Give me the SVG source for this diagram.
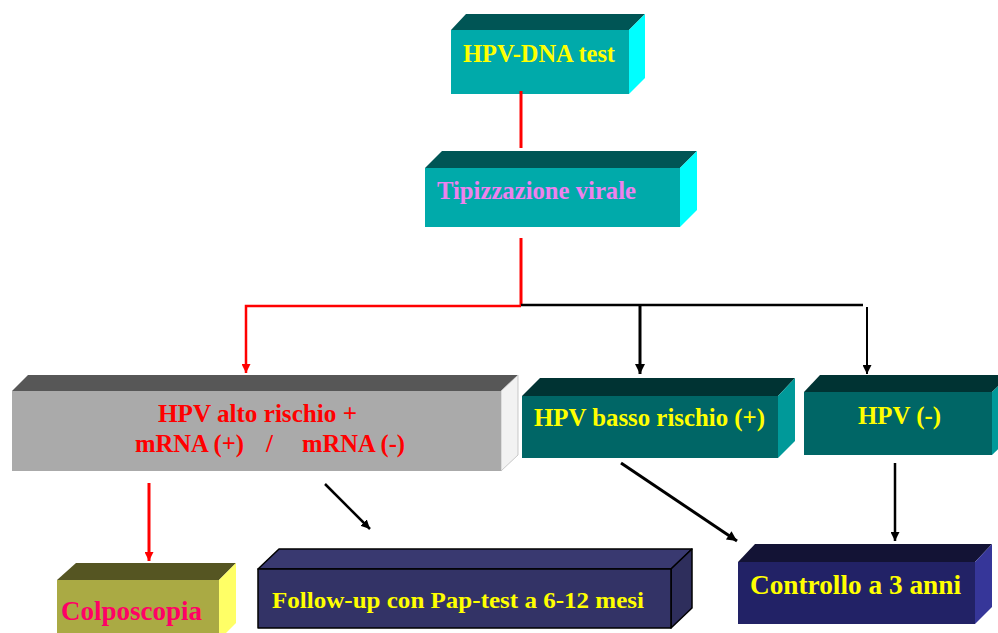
<svg xmlns="http://www.w3.org/2000/svg" width="998" height="633" viewBox="0 0 998 633">
<defs>
<style>
text{font-family:"Liberation Serif","Times New Roman",serif;font-weight:bold}
.y{fill:#ffff00}
.r{fill:#ff0000}
.ln{fill:none}
</style>
<marker id="ab" viewBox="0 0 10 10" refX="10" refY="5" markerWidth="12" markerHeight="10" markerUnits="userSpaceOnUse" orient="auto"><path d="M0,0 L10,5 L0,10 z" fill="#000"/></marker>
<marker id="abs" viewBox="0 0 10 10" refX="10" refY="5" markerWidth="9" markerHeight="9" markerUnits="userSpaceOnUse" orient="auto"><path d="M0,0 L10,5 L0,10 z" fill="#000"/></marker>
<marker id="ar" viewBox="0 0 10 10" refX="10" refY="5" markerWidth="9" markerHeight="9" markerUnits="userSpaceOnUse" orient="auto"><path d="M0,0 L10,5 L0,10 z" fill="#ff0000"/></marker>
</defs>
<rect width="998" height="633" fill="#ffffff"/>

<g id="n-hpvdna">
<polygon points="451,30 466,14 645,14 629,30" fill="#005555"/>
<polygon points="629,30 645,14 645,78 629,94" fill="#00ffff"/>
<rect x="451" y="30" width="178" height="64" fill="#00aaaa"/>
<text class="y" x="463" y="62" font-size="26" textLength="152" lengthAdjust="spacingAndGlyphs">HPV-DNA test</text>
</g>

<g id="n-tipizzazione">
<polygon points="425,168 442,151 697,151 680,168" fill="#005555"/>
<polygon points="680,168 697,151 697,210 680,227" fill="#00ffff"/>
<rect x="425" y="168" width="255" height="59" fill="#00aaaa"/>
<text x="437" y="199" font-size="26" fill="#ee82ee" textLength="199" lengthAdjust="spacingAndGlyphs">Tipizzazione virale</text>
</g>

<g id="n-alto">
<polygon points="12,391 28,375 518,375 501,391" fill="#575757"/>
<polygon points="501,391 518,375 518,455 501,471" fill="#f2f2f2" stroke="#bbbbbb" stroke-width="0.8"/>
<rect x="12" y="391" width="489" height="80" fill="#aaaaaa"/>
<text class="r" x="158" y="422" font-size="25" textLength="199" lengthAdjust="spacingAndGlyphs">HPV alto rischio +</text>
<text class="r" y="452" font-size="25"><tspan x="135" textLength="109" lengthAdjust="spacingAndGlyphs">mRNA (+)</tspan><tspan x="266">/</tspan><tspan x="302" textLength="103" lengthAdjust="spacingAndGlyphs">mRNA (-)</tspan></text>
</g>

<g id="n-basso">
<polygon points="522,396 540,378 795,378 778,396" fill="#003333"/>
<polygon points="778,396 795,378 795,441 778,458" fill="#009999"/>
<rect x="522" y="396" width="256" height="62" fill="#006666"/>
<text class="y" x="534" y="426" font-size="25" textLength="231" lengthAdjust="spacingAndGlyphs">HPV basso rischio (+)</text>
</g>

<g id="n-neg">
<polygon points="804,392 820,375 1010,375 992,392" fill="#003333"/>
<polygon points="992,392 1010,375 1010,438 992,455" fill="#009999"/>
<rect x="804" y="392" width="188" height="63" fill="#006666"/>
<text class="y" x="858" y="424" font-size="25" textLength="83" lengthAdjust="spacingAndGlyphs">HPV (-)</text>
</g>

<g id="n-colposcopia">
<polygon points="57,580 76,563 236,563 219,580" fill="#555522"/>
<polygon points="219,580 236,563 236,623 219,640" fill="#ffff66"/>
<rect x="57" y="580" width="162" height="60" fill="#aaaa44"/>
<text x="61" y="620" font-size="28" fill="#ff0066" textLength="141" lengthAdjust="spacingAndGlyphs">Colposcopia</text>
</g>

<g id="n-followup" stroke="#000" stroke-width="1.5" stroke-linejoin="round">
<polygon points="258,569 279,549 692,549 671,569" fill="#393970"/>
<polygon points="671,569 692,549 692,608 671,628" fill="#2e2e5c"/>
<rect x="258" y="569" width="413" height="59" fill="#333366"/>
<text class="y" x="272" y="608" font-size="24" stroke="none" textLength="372" lengthAdjust="spacingAndGlyphs">Follow-up con Pap-test a 6-12 mesi</text>
</g>

<g id="n-controllo">
<polygon points="738,562 755,544 992,544 975,562" fill="#131335"/>
<polygon points="975,562 992,544 992,607 975,624" fill="#363699"/>
<rect x="738" y="562" width="237" height="62" fill="#222266"/>
<text class="y" x="750" y="594" font-size="27" textLength="211" lengthAdjust="spacingAndGlyphs">Controllo a 3 anni</text>
</g>

<g id="connectors" class="ln">
<line x1="521" y1="91" x2="521" y2="148" stroke="#ff0000" stroke-width="3"/>
<line x1="521" y1="238" x2="521" y2="306" stroke="#ff0000" stroke-width="3"/>
<polyline points="521,306 246,306 246,373" stroke="#ff0000" stroke-width="2.5" marker-end="url(#ar)"/>
<line x1="521" y1="305" x2="863" y2="305" stroke="#000" stroke-width="2.5"/>
<line x1="640" y1="305" x2="640" y2="374" stroke="#000" stroke-width="3" marker-end="url(#ab)"/>
<line x1="867" y1="307" x2="867" y2="374" stroke="#000" stroke-width="2" marker-end="url(#abs)"/>
<line x1="149" y1="483" x2="149" y2="561" stroke="#ff0000" stroke-width="3" marker-end="url(#ar)"/>
<line x1="325" y1="484" x2="370" y2="529" stroke="#000" stroke-width="2.5" marker-end="url(#abs)"/>
<line x1="621" y1="463" x2="737" y2="541" stroke="#000" stroke-width="3" marker-end="url(#ab)"/>
<line x1="895" y1="463" x2="895" y2="541" stroke="#000" stroke-width="2.5" marker-end="url(#abs)"/>
</g>
</svg>
